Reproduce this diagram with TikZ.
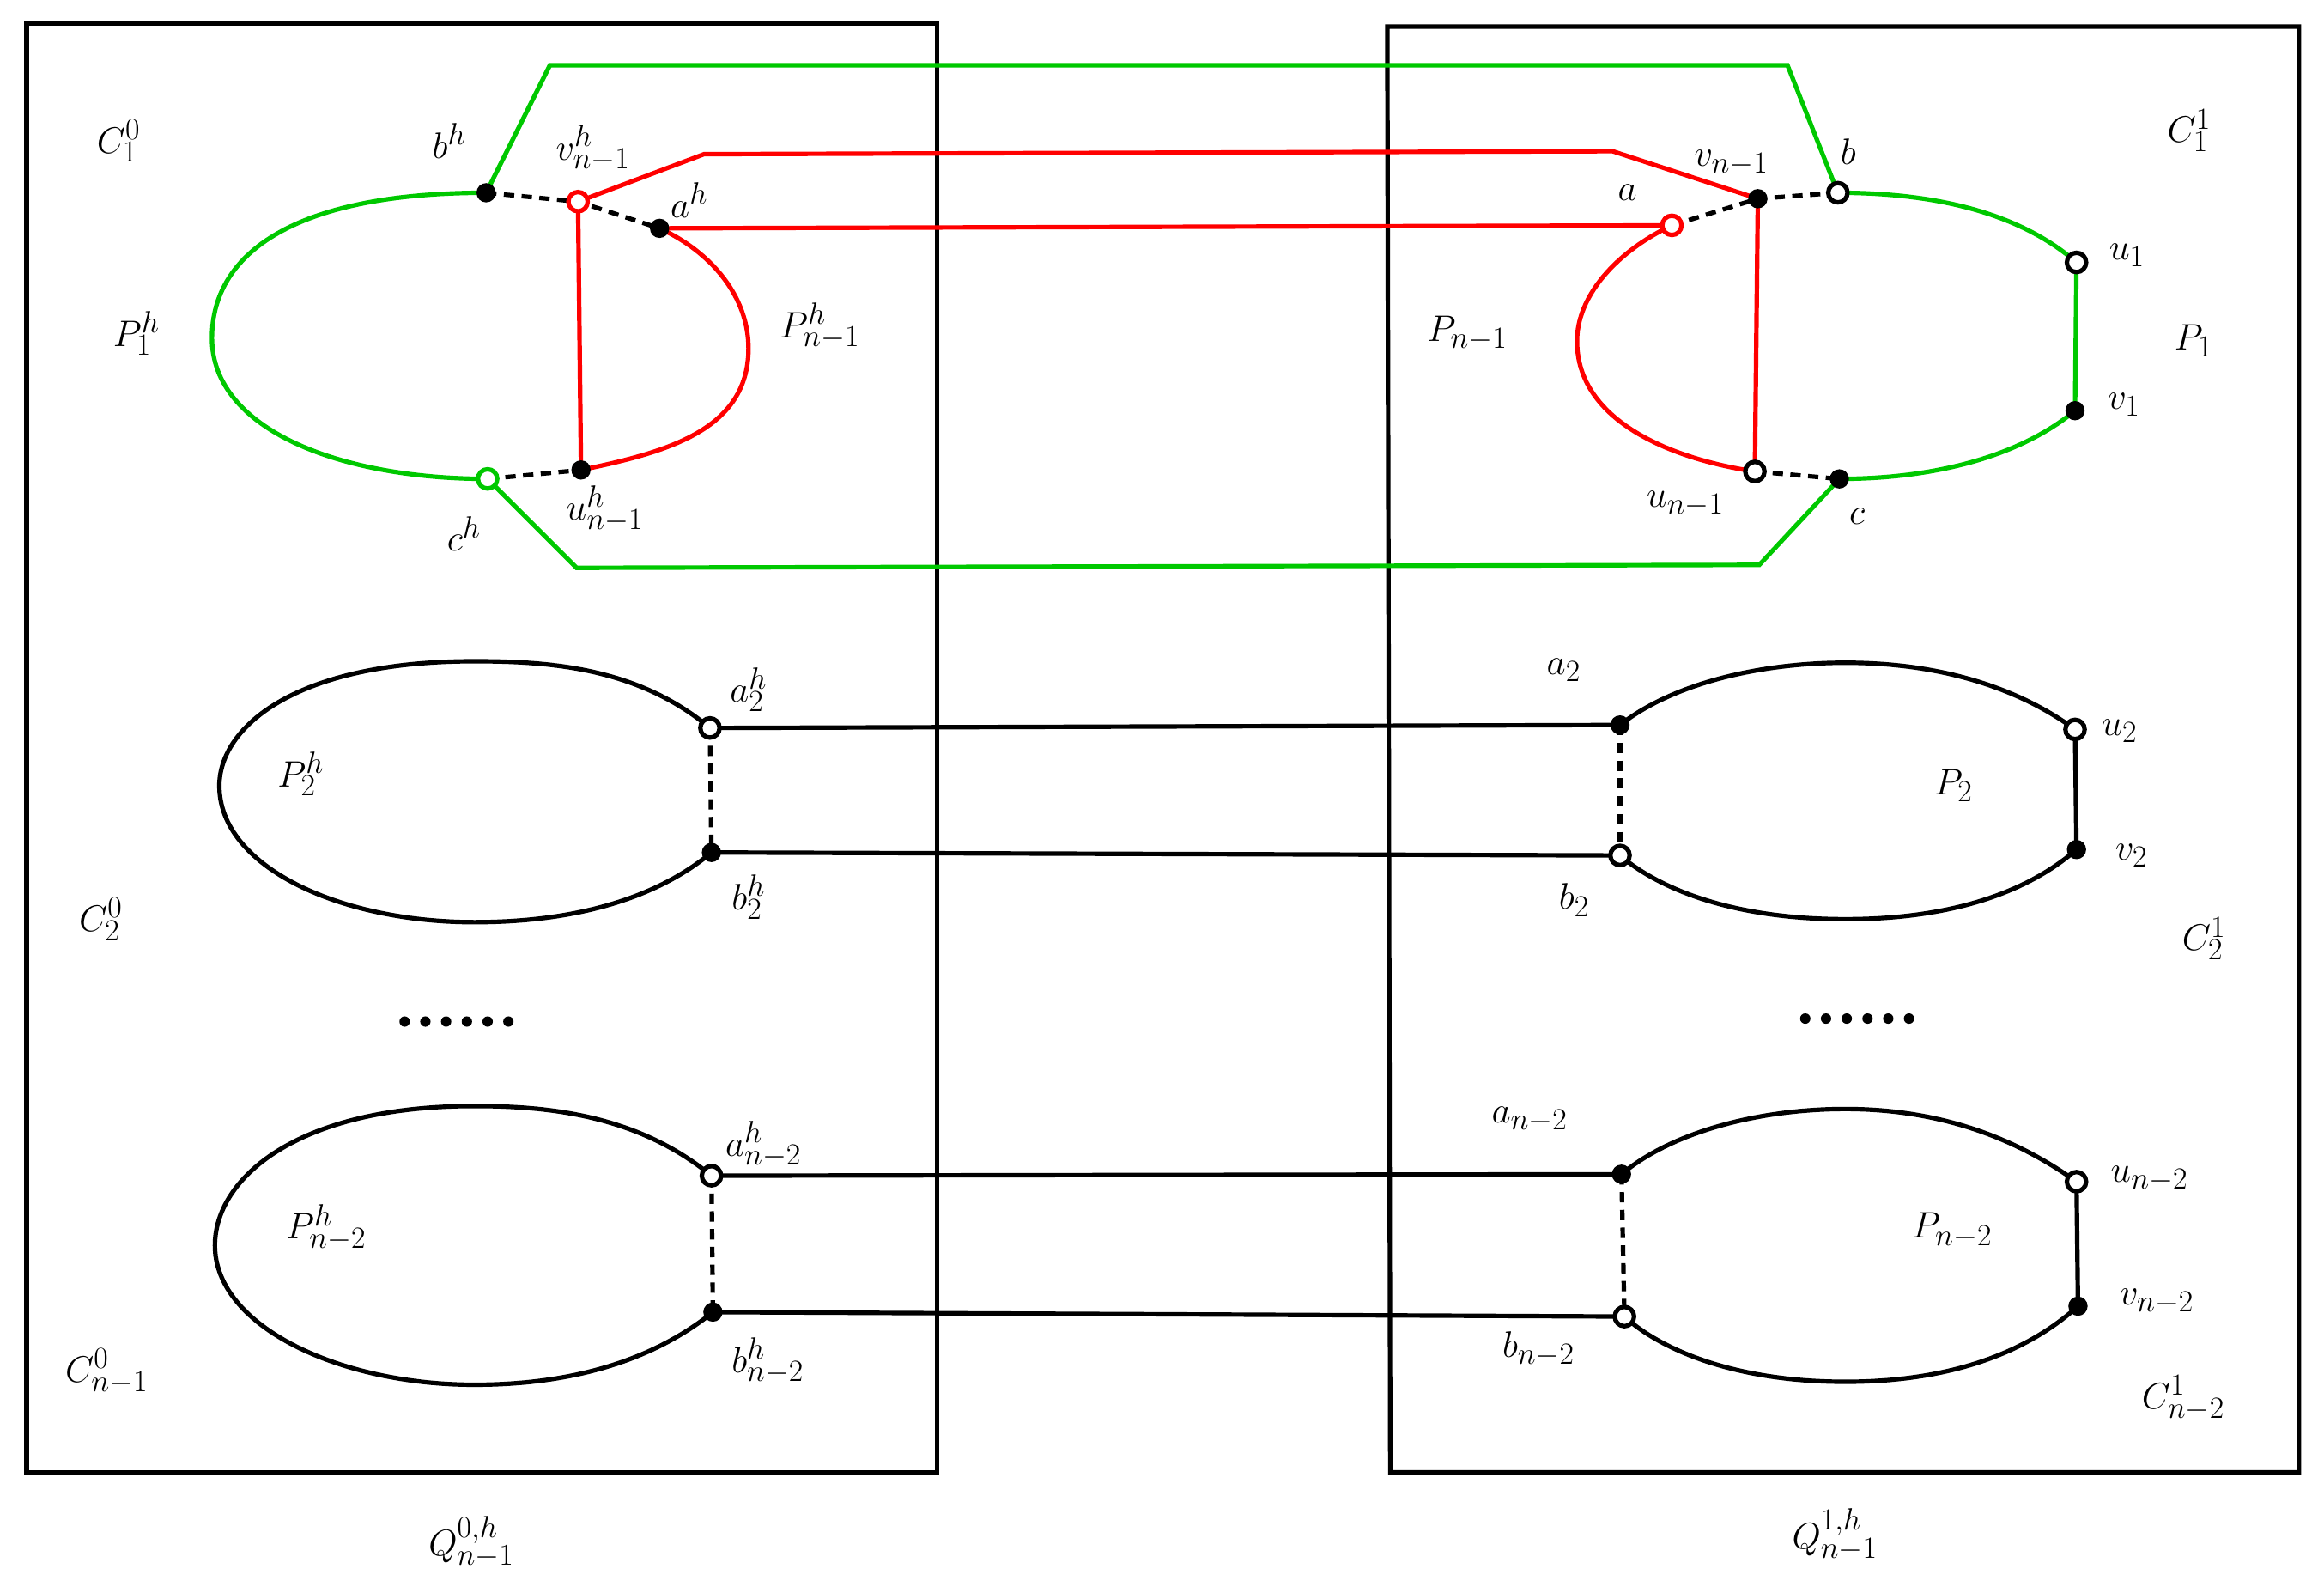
\documentclass[tikz,border=0pt]{standalone}
\begin{document}
\begin{tikzpicture}[x=1pt,y=-1pt,
  ln/.style={line width=3pt},
  dsh/.style={line width=3pt,dash pattern=on 7pt off 5pt},
  op/.style={circle,draw=black,line width=3pt,fill=white,inner sep=0pt,minimum size=13pt},
  opr/.style={op,draw=red},
  fl/.style={circle,fill=black,inner sep=0pt,minimum size=13pt},
  lb/.style={font=\fontsize{30}{36}\selectfont}]
\definecolor{gr}{RGB}{0,200,0}
\useasboundingbox (0,0) rectangle (1568,1066);
\draw[ln] (18,16) rectangle (632,993);
\draw[ln] (936,18) -- (1551,18) -- (1551,993) -- (938,993) -- cycle;
\coordinate (bh) at (328,130); \coordinate (ch) at (329,323);
\coordinate (vh) at (390,136); \coordinate (ah) at (445,154); \coordinate (uh) at (392,317);
\coordinate (a) at (1128,152); \coordinate (v) at (1186,134); \coordinate (b) at (1240,130);
\coordinate (u) at (1184,318); \coordinate (c) at (1241,323);
\coordinate (u1) at (1401,177); \coordinate (v1) at (1400,277);
\coordinate (g1) at (371,44); \coordinate (g2) at (1206,44);
\coordinate (g3) at (389,383); \coordinate (g4) at (1187,381);
\coordinate (r1) at (475,104); \coordinate (r2) at (1088,102);
\draw[ln,gr] (bh) .. controls (200,130) and (143,170) .. (143,228) .. controls (143,290) and (230,323) .. (ch);
\draw[ln,gr] (bh) -- (g1) -- (g2) -- (b);
\draw[ln,gr] (ch) -- (g3) -- (g4) -- (c);
\draw[ln,gr] (b) .. controls (1320,130) and (1370,150) .. (u1) -- (v1) .. controls (1360,310) and (1300,323) .. (c);
\draw[ln,red] (vh) -- (uh);
\draw[ln,red] (ah) .. controls (480,170) and (505,200) .. (505,235) .. controls (505,290) and (450,305) .. (uh);
\draw[ln,red] (vh) -- (r1) -- (r2) -- (v);
\draw[ln,red] (ah) -- (a);
\draw[ln,red] (a) .. controls (1090,170) and (1064,200) .. (1064,230) .. controls (1064,285) and (1130,310) .. (u);
\draw[ln,red] (v) -- (u);
\draw[dsh] (bh) -- (vh) -- (ah);
\draw[dsh] (ch) -- (uh);
\draw[dsh] (a) -- (v) -- (b);
\draw[dsh] (u) -- (c);
\node[fl] at (bh) {}; \node[op,draw=gr] at (ch) {};
\node[opr] at (vh) {}; \node[fl] at (ah) {}; \node[fl] at (uh) {};
\node[opr] at (a) {}; \node[fl] at (v) {}; \node[op] at (b) {};
\node[op] at (u) {}; \node[fl] at (c) {};
\node[op] at (u1) {}; \node[fl] at (v1) {};
\coordinate (a2h) at (479,491); \coordinate (b2h) at (480,575);
\coordinate (a2) at (1093,489); \coordinate (b2) at (1093,577);
\coordinate (u2) at (1400,492); \coordinate (v2) at (1401,573);
\draw[ln] (a2h) .. controls (430,450) and (370,446) .. (320,446) .. controls (200,446) and (148,490) .. (148,530) .. controls (148,585) and (230,622) .. (320,622) .. controls (400,622) and (450,600) .. (b2h);
\draw[ln] (a2) .. controls (1130,460) and (1190,447) .. (1245,447) .. controls (1320,447) and (1370,470) .. (u2) -- (v2) .. controls (1370,600) and (1320,620) .. (1245,620) .. controls (1170,620) and (1120,600) .. (b2);
\draw[ln] (a2h) -- (a2); \draw[ln] (b2h) -- (b2);
\draw[dsh] (a2h) -- (b2h); \draw[dsh] (a2) -- (b2);
\node[op] at (a2h) {}; \node[fl] at (b2h) {}; \node[fl] at (a2) {}; \node[op] at (b2) {};
\node[op] at (u2) {}; \node[fl] at (v2) {};
\coordinate (a3h) at (480,793); \coordinate (b3h) at (481,885);
\coordinate (a3) at (1094,792); \coordinate (b3) at (1096,888);
\coordinate (u3) at (1401,797); \coordinate (v3) at (1402,881);
\draw[ln] (a3h) .. controls (430,752) and (370,746) .. (320,746) .. controls (200,746) and (145,795) .. (145,840) .. controls (145,895) and (230,934) .. (320,934) .. controls (400,934) and (450,910) .. (b3h);
\draw[ln] (a3) .. controls (1130,762) and (1190,748) .. (1245,748) .. controls (1320,748) and (1370,775) .. (u3) -- (v3) .. controls (1370,910) and (1320,932) .. (1245,932) .. controls (1170,932) and (1120,910) .. (b3);
\draw[ln] (a3h) -- (a3); \draw[ln] (b3h) -- (b3);
\draw[dsh] (a3h) -- (b3h); \draw[dsh] (a3) -- (b3);
\node[op] at (a3h) {}; \node[fl] at (b3h) {}; \node[fl] at (a3) {}; \node[op] at (b3) {};
\node[op] at (u3) {}; \node[fl] at (v3) {};
\foreach \i in {0,...,5} {\fill (273+\i*14,689) circle (3.5pt); \fill (1218+\i*14,687) circle (3.5pt);}
\node[lb] (l1) at (80,95) {$C_1^0$};
\node[lb] (l2) at (303,95) {$b^h$};
\node[lb] (l3) at (400,100) {$v^h_{n-1}$};
\node[lb] (l4) at (465,135) {$a^h$};
\node[lb] (l5) at (92,225) {$P_1^h$};
\node[lb] (l6) at (553,220) {$P^h_{n-1}$};
\node[lb] (l7) at (313,360) {$c^h$};
\node[lb] (l8) at (408,343) {$u^h_{n-1}$};
\node[lb] (l9) at (1098,130) {$a$};
\node[lb] (l10) at (1168,110) {$v_{n-1}$};
\node[lb] (l11) at (1247,102) {$b$};
\node[lb] (l12) at (1477,88) {$C_1^1$};
\node[lb] (l13) at (1435,172) {$u_1$};
\node[lb] (l14) at (1480,230) {$P_1$};
\node[lb] (l15) at (1433,273) {$v_1$};
\node[lb] (l16) at (990,225) {$P_{n-1}$};
\node[lb] (l17) at (1137,340) {$u_{n-1}$};
\node[lb] (l18) at (1253,348) {$c$};
\node[lb] (l19) at (505,465) {$a_2^h$};
\node[lb] (l20) at (203,522) {$P_2^h$};
\node[lb] (l21) at (68,620) {$C_2^0$};
\node[lb] (l22) at (505,605) {$b_2^h$};
\node[lb] (l23) at (1055,452) {$a_2$};
\node[lb] (l24) at (1430,493) {$u_2$};
\node[lb] (l25) at (1318,530) {$P_2$};
\node[lb] (l26) at (1438,577) {$v_2$};
\node[lb] (l27) at (1062,607) {$b_2$};
\node[lb] (l28) at (1487,633) {$C_2^1$};
\node[lb] (l29) at (515,772) {$a^h_{n-2}$};
\node[lb] (l30) at (220,828) {$P^h_{n-2}$};
\node[lb] (l31) at (72,925) {$C^0_{n-1}$};
\node[lb] (l32) at (518,918) {$b^h_{n-2}$};
\node[lb] (l33) at (1032,755) {$a_{n-2}$};
\node[lb] (l34) at (1450,795) {$u_{n-2}$};
\node[lb] (l35) at (1317,830) {$P_{n-2}$};
\node[lb] (l36) at (1455,878) {$v_{n-2}$};
\node[lb] (l37) at (1038,910) {$b_{n-2}$};
\node[lb] (l38) at (1473,943) {$C^1_{n-2}$};
\node[lb] (l39) at (318,1040) {$Q^{0,h}_{n-1}$};
\node[lb] (l40) at (1238,1035) {$Q^{1,h}_{n-1}$};
\end{tikzpicture}
\end{document}
